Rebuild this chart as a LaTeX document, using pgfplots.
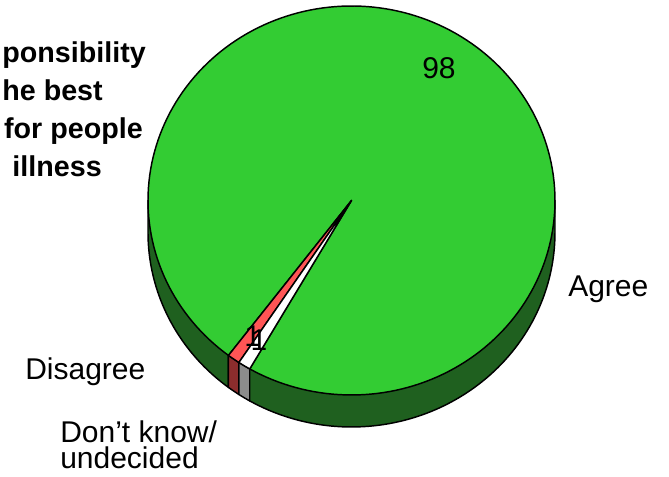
\documentclass[border=0pt]{standalone}
\usepackage{pgfplots}
\usepackage{pgfplotstable}
\pgfplotsset{compat=1.18}
\usepackage{fontspec}
\setmainfont{Liberation Sans}

\definecolor{pietop}{RGB}{51,204,51}
\definecolor{pieside}{RGB}{31,96,31}
\definecolor{redtop}{RGB}{255,85,85}
\definecolor{redside}{RGB}{140,45,45}
\definecolor{grayside}{RGB}{140,140,140}

% share of answers, percent
\pgfplotstableread{
answer value
Disagree 1
Dontknow 1
Agree 98
}\piedata

\pgfplotstablegetelem{0}{value}\of\piedata \let\vDis=\pgfplotsretval
\pgfplotstablegetelem{1}{value}\of\piedata \let\vDk=\pgfplotsretval
\pgfplotstablegetelem{2}{value}\of\piedata \let\vAg=\pgfplotsretval

% pie geometry in pixel units
\def\cx{351.5}\def\cy{276.5}\def\ra{203.5}\def\rb{194.5}\def\dep{32}
\def\tA{232.8}
\pgfmathsetmacro\tB{\tA+3.6*\vDis}
\pgfmathsetmacro\tC{\tB+3.6*\vDk}
\pgfmathsetmacro\tD{\tC+3.6*\vAg}

\newcommand\lbl{\fontsize{22.5}{19.5}\selectfont}
\newcommand\ttl{\fontsize{21.5}{26}\selectfont\bfseries}

\begin{document}
\begin{tikzpicture}
\begin{axis}[
    x=0.75pt, y=0.75pt,
    xmin=0, xmax=669, ymin=0, ymax=477,
    hide axis, clip=false,
    every axis plot/.append style={line width=1.1pt, draw=black, line join=round},
]
% side walls
\addplot[fill=pieside, domain=180:\tA, samples=60]
  ({\cx+\ra*cos(x)},{\cy-\dep+\rb*sin(x)})
  -- (axis cs:{\cx+\ra*cos(\tA)},{\cy+\rb*sin(\tA)})
  -- (axis cs:{\cx+\ra*cos(180)},{\cy+\rb*sin(180)}) -- cycle;
\addplot[fill=redside, domain=\tA:\tB, samples=5]
  ({\cx+\ra*cos(x)},{\cy-\dep+\rb*sin(x)})
  -- (axis cs:{\cx+\ra*cos(\tB)},{\cy+\rb*sin(\tB)})
  -- (axis cs:{\cx+\ra*cos(\tA)},{\cy+\rb*sin(\tA)}) -- cycle;
\addplot[fill=grayside, domain=\tB:\tC, samples=5]
  ({\cx+\ra*cos(x)},{\cy-\dep+\rb*sin(x)})
  -- (axis cs:{\cx+\ra*cos(\tC)},{\cy+\rb*sin(\tC)})
  -- (axis cs:{\cx+\ra*cos(\tB)},{\cy+\rb*sin(\tB)}) -- cycle;
\addplot[fill=pieside, domain=\tC:360, samples=80]
  ({\cx+\ra*cos(x)},{\cy-\dep+\rb*sin(x)})
  -- (axis cs:{\cx+\ra*cos(360)},{\cy+\rb*sin(360)})
  -- (axis cs:{\cx+\ra*cos(\tC)},{\cy+\rb*sin(\tC)}) -- cycle;
% top faces
\addplot[fill=pietop, domain=\tC:\tD, samples=200]
  ({\cx+\ra*cos(x)},{\cy+\rb*sin(x)}) -- (axis cs:\cx,\cy) -- cycle;
\addplot[fill=redtop, domain=\tA:\tB, samples=5]
  ({\cx+\ra*cos(x)},{\cy+\rb*sin(x)}) -- (axis cs:\cx,\cy) -- cycle;
\addplot[fill=white, domain=\tB:\tC, samples=5]
  ({\cx+\ra*cos(x)},{\cy+\rb*sin(x)}) -- (axis cs:\cx,\cy) -- cycle;

% labels
\node[anchor=base, inner sep=0] at (axis cs:439,398) {\lbl 98};
\node[anchor=base west, inner sep=0] at (axis cs:244,130) {\lbl 1\kern-7.8pt\raisebox{-2.3pt}{1}};
\node[anchor=base west, inner sep=0] at (axis cs:568,180) {\lbl Agree};
\node[anchor=base west, inner sep=0] at (axis cs:25,97) {\lbl Disagree};
\node[anchor=south west, inner sep=0, align=left, font=\lbl] at (axis cs:60,8)
  {Don’t know/\\undecided};

% title, cut at the left edge
\node[anchor=base east, inner sep=0] at (axis cs:146,414) {\ttl ponsibility};
\node[anchor=base east, inner sep=0] at (axis cs:103,376) {\ttl he best};
\node[anchor=base east, inner sep=0] at (axis cs:143,338) {\ttl for people};
\node[anchor=base east, inner sep=0] at (axis cs:102,300) {\ttl illness};
\end{axis}
\pgfresetboundingbox
\useasboundingbox (0,0) rectangle (501.75pt,357.75pt);
\end{tikzpicture}
\end{document}
